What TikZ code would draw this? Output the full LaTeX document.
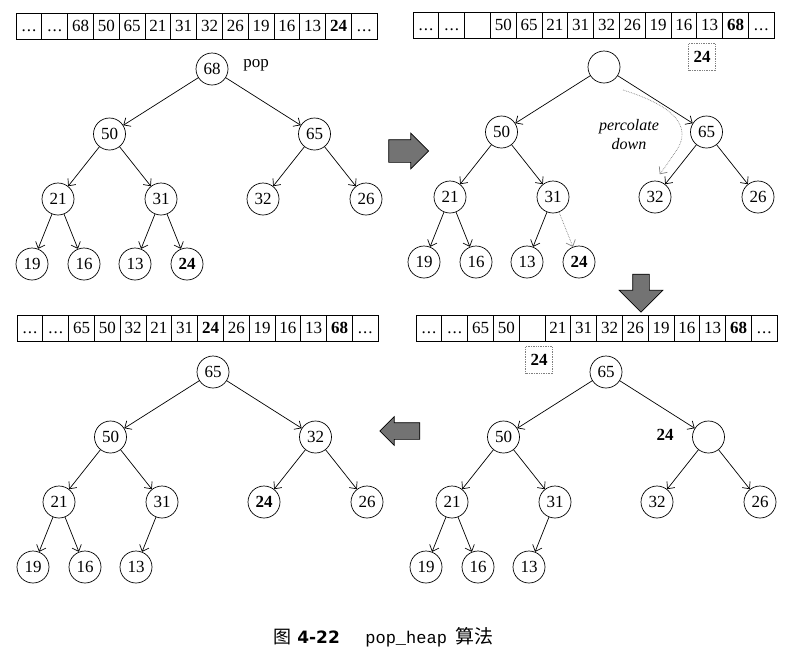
\documentclass[tikz,border=0pt]{standalone}
\usepackage{fontspec}
\setmainfont{Liberation Serif}
\setmonofont{Liberation Mono}
\newfontfamily\cjk{Noto Sans CJK SC}
\newfontfamily\capsans{DejaVu Sans}
\usetikzlibrary{arrows.meta,shapes.arrows}

\newcommand{\celldots}{.\hspace{0.06em}.\hspace{0.06em}.}

\tikzset{
  hnode/.style={circle, draw, minimum size=32pt, inner sep=0pt},
  cell/.style={draw, minimum width=25.8pt, minimum height=26pt, inner sep=0pt,
    text height=11.5pt, text depth=0pt},
  hold/.style={draw=gray, densely dotted, minimum width=27pt, minimum height=27pt, inner sep=0pt},
  fatarrow/.style={single arrow, draw, fill=black!55, minimum height=40pt,
    inner xsep=0pt, inner ysep=11pt, single arrow head extend=6.5pt},
  capt/.style={anchor=base west, inner sep=0pt},
}

\begin{document}
\begin{tikzpicture}[x=1pt, y=-1pt, line width=0.7pt,
    >={Straight Barb[length=5.5pt,width=10pt]},
    font=\fontsize{17}{20}\selectfont,
    level distance=65pt,
    level 1/.style={sibling distance=205pt},
    level 2/.style={sibling distance=103pt},
    level 3/.style={sibling distance=52pt},
    edge from parent/.style={draw, ->}]
    \useasboundingbox (0,0) rectangle (802,665);

    % the four arrays
    \foreach \v [count=\i] in {\celldots,\celldots,68,50,65,21,31,32,26,19,16,13,{\textbf{24}},\celldots}
        \node [cell] (ta\i) at ({16+(\i-0.5)*25.8},26) {\v};
    \foreach \v [count=\i] in {\celldots,\celldots,{},50,65,21,31,32,26,19,16,13,{\textbf{68}},\celldots}
        \node [cell] (tb\i) at ({413+(\i-0.5)*25.8},25) {\v};
    \foreach \v [count=\i] in {\celldots,\celldots,65,50,{},21,31,32,26,19,16,13,{\textbf{68}},\celldots}
        \node [cell] (tc\i) at ({416+(\i-0.5)*25.8},328) {\v};
    \foreach \v [count=\i] in {\celldots,\celldots,65,50,32,21,31,{\textbf{24}},26,19,16,13,{\textbf{68}},\celldots}
        \node [cell] (td\i) at ({17+(\i-0.5)*25.8},328) {\v};

    % step 1
    \node [hnode] (a68) at (212,69) {68}
        child {node [hnode] (a50) {50}
            child {node [hnode] (a21) {21}
                child {node [hnode] (a19) {19}}
                child {node [hnode] (a16) {16}}
            }
            child {node [hnode] (a31) {31}
                child {node [hnode] (a13) {13}}
                child {node [hnode] (a24) {\textbf{24}}}
            }
        }
        child {node [hnode] (a65) {65}
            child {node [hnode] (a32) {32}}
            child {node [hnode] (a26) {26}}
        };
    \node (pop) at (256,65) {pop};

    % step 2
    \node [hnode] (broot) at (604,67) {}
        child {node [hnode] (b50) {50}
            child {node [hnode] (b21) {21}
                child {node [hnode] (b19) {19}}
                child {node [hnode] (b16) {16}}
            }
            child {node [hnode] (b31) {31}
                child {node [hnode] (b13) {13}}
                child {node [hnode] (b24) {\textbf{24}}
                    edge from parent [densely dotted, draw=gray]}
            }
        }
        child {node [hnode] (b65) {65}
            child {node [hnode] (b32) {32}}
            child {node [hnode] (b26) {26}}
        };
    \node [hold] (bhold) at (702,57) {\textbf{24}};
    \node [align=center, font=\fontsize{16}{19}\selectfont\itshape] (perc) at (629,135) {percolate\\down};
    \coordinate (pstart) at (623,90);
    \draw [densely dotted, gray, ->, shorten >=8pt] (pstart)
        .. controls (655,100) and (695,118) .. (678,148)
        .. controls (668,163) .. (b32.north);

    % step 3
    \node [hnode] (c65) at (606,372) {65}
        child {node [hnode] (c50) {50}
            child {node [hnode] (c21) {21}
                child {node [hnode] (c19) {19}}
                child {node [hnode] (c16) {16}}
            }
            child {node [hnode] (c31) {31}
                child {node [hnode] (c13) {13}}
                child [missing]
            }
        }
        child {node [hnode] (chole) {}
            child {node [hnode] (c32) {32}}
            child {node [hnode] (c26) {26}}
        };
    \node [hold] (chold) at (539,360) {\textbf{24}};
    \node (clab) at (665,435) {\textbf{24}};

    % step 4
    \node [hnode] (d65) at (213,372) {65}
        child {node [hnode] (d50) {50}
            child {node [hnode] (d21) {21}
                child {node [hnode] (d19) {19}}
                child {node [hnode] (d16) {16}}
            }
            child {node [hnode] (d31) {31}
                child {node [hnode] (d13) {13}}
                child [missing]
            }
        }
        child {node [hnode] (d32) {32}
            child {node [hnode] (d24) {\textbf{24}}}
            child {node [hnode] (d26) {26}}
        };

    % big arrows between the steps
    \node [fatarrow] (toright) at (403,151) {};
    \node [fatarrow, rotate=-90, minimum height=38pt, inner ysep=8pt,
        single arrow head extend=13.5pt] (todown) at (641,289) {};
    \node [fatarrow, rotate=180, inner ysep=8pt, single arrow head extend=6pt] (toleft) at (404,431) {};

    % caption
    \node [capt] (capfig) at (273,643) {\cjk\fontsize{18}{20}\selectfont 图};
    \node [capt] (capnum) at (297,643) {\capsans\bfseries\fontsize{17}{20}\selectfont 4-22};
    \node [capt] (capcode) at (365,643) {\ttfamily\fontsize{17}{20}\selectfont pop\_heap};
    \node [capt] (capalg) at (455,643) {\cjk\fontsize{19}{20}\selectfont 算法};
\end{tikzpicture}
\end{document}
